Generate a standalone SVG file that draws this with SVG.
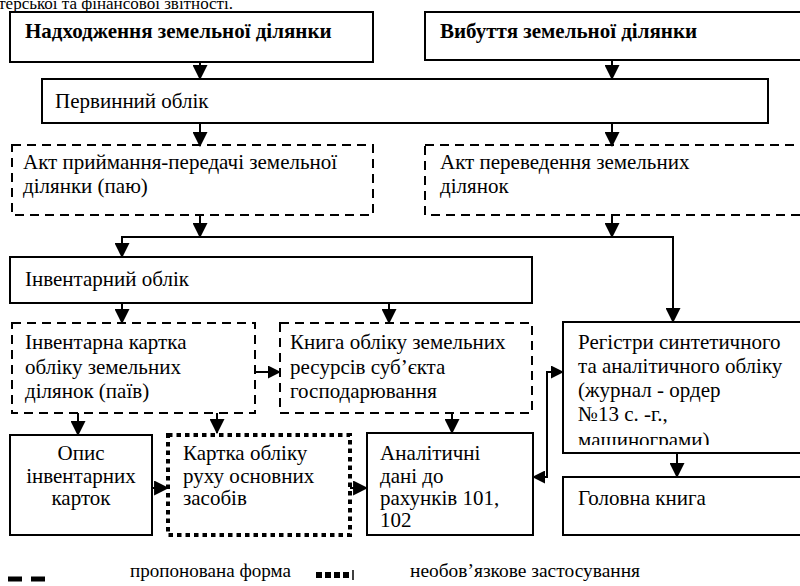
<svg xmlns="http://www.w3.org/2000/svg" width="800" height="586" viewBox="0 0 800 586">
<style>
text{font-family:"Liberation Serif","Times New Roman",serif;font-size:21px;fill:#000}
.b{font-weight:bold}
.solid{fill:#fff;stroke:#000;stroke-width:2}
.dash{fill:#fff;stroke:#000;stroke-width:2;stroke-dasharray:9 6}
.dot{fill:#fff;stroke:#000;stroke-width:4;stroke-dasharray:4.5 4}
.c{fill:none;stroke:#000;stroke-width:2}
.a{marker-end:url(#ah)}
.lg{font-size:19px}
.top{font-size:17px}
</style>
<defs>
<marker id="ah" viewBox="0 0 14 14" refX="13" refY="7" markerWidth="15" markerHeight="15" markerUnits="userSpaceOnUse" orient="auto"><path d="M0,0 L14,7 L0,14 z" fill="#000"/></marker>
<marker id="ahs" viewBox="0 0 14 14" refX="13" refY="7" markerWidth="13" markerHeight="13" markerUnits="userSpaceOnUse" orient="auto-start-reverse"><path d="M0,0 L14,7 L0,14 z" fill="#000"/></marker>
<clipPath id="regclip"><rect x="563" y="322" width="240" height="123"/></clipPath>
</defs>
<text class="top" x="233" y="9" text-anchor="end">бухгалтерської та фінансової звітності.</text>
<g id="n-nadkhodzhennia"><rect class="solid" x="10" y="12" width="363" height="50"/><text class="b" x="25" y="38">Надходження земельної ділянки</text></g>
<g id="n-vybuttia"><rect class="solid" x="425" y="12" width="385" height="48"/><text class="b" x="440" y="38">Вибуття земельної ділянки</text></g>
<g id="n-pervynnyi"><rect class="solid" x="42" y="79" width="726" height="44"/><text x="55" y="108">Первинний облік</text></g>
<g id="n-akt-pryim"><rect class="dash" x="12" y="145" width="361" height="70"/><text x="23" y="169">Акт приймання-передачі земельної</text><text x="23" y="193">ділянки (паю)</text></g>
<g id="n-akt-perev"><rect class="dash" x="425" y="145" width="385" height="70"/><text x="440" y="169">Акт переведення земельних</text><text x="440" y="193"> ділянок</text></g>
<g id="n-inventarnyi"><rect class="solid" x="10" y="257" width="522" height="46"/><text x="25" y="286">Інвентарний облік</text></g>
<g id="n-kartka-inv"><rect class="dash" x="12" y="323" width="243" height="90"/><text x="25" y="349">Інвентарна картка</text><text x="25" y="374">обліку земельних</text><text x="25" y="398">ділянок (паїв)</text></g>
<g id="n-knyha"><rect class="dash" x="280" y="323" width="252" height="90"/><text x="290" y="349">Книга обліку земельних</text><text x="290" y="374">ресурсів суб’єкта</text><text x="290" y="398">господарювання</text></g>
<g id="n-registry"><rect class="solid" x="563" y="322" width="247" height="131"/><g clip-path="url(#regclip)"><text x="578" y="349">Регістри синтетичного</text><text x="578" y="373">та аналітичного обліку</text><text x="578" y="397">(журнал - ордер</text><text x="578" y="421">№13 с. -г.,</text><text x="578" y="447">машинограми)</text></g></g>
<g id="n-opys"><rect class="solid" x="10" y="435" width="142" height="100"/><text x="81" y="460" text-anchor="middle">Опис</text><text x="81" y="483" text-anchor="middle">інвентарних</text><text x="81" y="505" text-anchor="middle">карток</text></g>
<g id="n-kartka-rukhu"><rect class="dot" x="168" y="435" width="182" height="100"/><text x="183" y="460">Картка обліку</text><text x="183" y="483">руху основних</text><text x="183" y="505">засобів</text></g>
<g id="n-analitychni"><rect class="solid" x="367" y="433" width="166" height="102"/><text x="380" y="460">Аналітичні</text><text x="380" y="483">дані до</text><text x="380" y="505">рахунків 101,</text><text x="380" y="527">102</text></g>
<g id="n-holovna"><rect class="solid" x="563" y="477" width="247" height="58"/><text x="578" y="505">Головна книга</text></g>
<g id="connectors">
<line class="c a" x1="200" y1="62" x2="200" y2="79"/>
<line class="c a" x1="612" y1="60" x2="612" y2="79"/>
<line class="c a" x1="200" y1="123" x2="200" y2="146"/>
<line class="c a" x1="612" y1="123" x2="612" y2="146"/>
<line class="c a" x1="200" y1="215" x2="200" y2="237"/>
<line class="c a" x1="612" y1="215" x2="612" y2="237"/>
<polyline class="c a" points="122,237 122,257"/>
<line class="c" x1="121" y1="237" x2="674" y2="237"/>
<polyline class="c a" points="673,237 673,322"/>
<line class="c a" x1="122" y1="303" x2="122" y2="323"/>
<line class="c a" x1="389" y1="303" x2="389" y2="323"/>
<line class="c" x1="255" y1="372" x2="280" y2="372" marker-end="url(#ahs)"/>
<line class="c a" x1="78" y1="413" x2="78" y2="435"/>
<line class="c a" x1="217" y1="413" x2="217" y2="433"/>
<line class="c a" x1="452" y1="413" x2="452" y2="433"/>
<line class="c a" x1="152" y1="488" x2="168" y2="488"/>
<line class="c a" x1="350" y1="488" x2="367" y2="488"/>
<polyline class="c" points="533,477 547,477 547,372 563,372" marker-start="url(#ahs)" marker-end="url(#ahs)"/>
<line class="c a" x1="677" y1="453" x2="677" y2="477"/>
</g>
<g id="legend">
<line x1="8" y1="579" x2="45" y2="579" stroke="#000" stroke-width="5" stroke-dasharray="14 9"/>
<text class="lg" x="130" y="577" textLength="161" lengthAdjust="spacingAndGlyphs">пропонована  форма</text>
<line x1="316" y1="575" x2="350" y2="575" stroke="#000" stroke-width="6" stroke-dasharray="6 3"/>
<line x1="353" y1="570" x2="353" y2="580" stroke="#000" stroke-width="1.5"/>
<text class="lg" x="410" y="577" textLength="230" lengthAdjust="spacingAndGlyphs">необов’язкове застосування</text>
</g>
</svg>
